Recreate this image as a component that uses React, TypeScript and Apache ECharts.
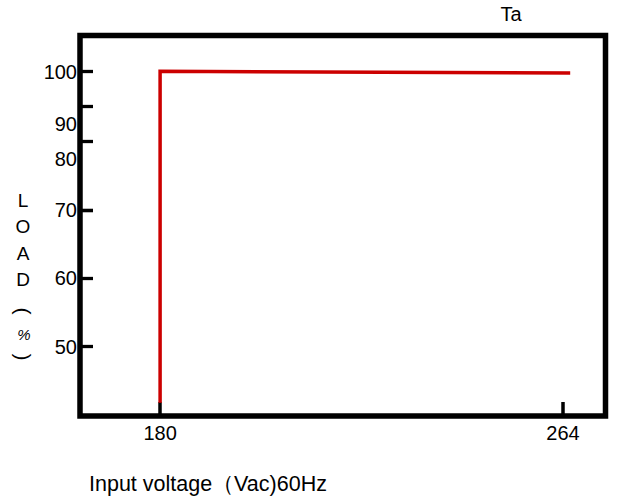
import React, { useEffect, useRef } from "react";
import * as echarts from "echarts";

// Curve "Ta": input voltage (Vac) vs load (%)
const taVoltage = [180, 180, 265.5];
const taLoad = [41.8, 100.1, 99.7];

// Axis break: the load axis is drawn with two scales, joined at this value
const loadBreak = 70;

// X axis
const xMin = 163.3;
const xMax = 272.86;
const xTicks = [180, 264];

// Upper load scale (70 .. top)
const upperMax = 107.85;
const upperTicks = [100, 92.6, 85, 70];
const upperLabelValues = [100, 88.65, 81.06];
const upperLabelTexts = ["100", "90", "80"];

// Lower load scale (bottom .. 70)
const lowerMin = 39.87;
const lowerTicks = [70, 60, 50];
const lowerLabelValues = [70, 60, 50];
const lowerLabelTexts = ["70", "60", "50"];

const yNameWord = "L\nO\nA\nD";
const yNameOpen = "(";
const yNameUnit = "%";
const yNameClose = ")";
const xName = "Input voltage（Vac)60Hz";
const seriesName = "Ta";

const FONT = "Arial";
const RED = "#cc0000";

function splitAtBreak(xs: number[], ys: number[], brk: number) {
  const upper: number[][] = [];
  const lower: number[][] = [];
  for (let i = 0; i < xs.length - 1; i++) {
    const x0 = xs[i], y0 = ys[i], x1 = xs[i + 1], y1 = ys[i + 1];
    const pts: number[][] = [[x0, y0]];
    if ((y0 - brk) * (y1 - brk) < 0) {
      const t = (brk - y0) / (y1 - y0);
      pts.push([x0 + t * (x1 - x0), brk]);
    }
    pts.push([x1, y1]);
    for (let j = 0; j < pts.length - 1; j++) {
      const a = pts[j], b = pts[j + 1];
      const mid = (a[1] + b[1]) / 2;
      const target = mid >= brk ? upper : lower;
      const last = target[target.length - 1];
      if (!last || last[0] !== a[0] || last[1] !== a[1]) target.push(a);
      target.push(b);
    }
  }
  return { upper, lower };
}

export default function App() {
  const ref = useRef<HTMLDivElement>(null);
  useEffect(() => {
    if (!ref.current) return;
    const chart = echarts.init(ref.current, null, { renderer: "svg" });
    const { upper, lower } = splitAtBreak(taVoltage, taLoad, loadBreak);
    const lookup = (vals: number[], texts: string[]) => (v: number) => {
      const i = vals.findIndex((p) => Math.abs(p - v) < 1e-6);
      return i >= 0 ? texts[i] : "";
    };
    const labelStyle = { color: "#000", fontSize: 20, fontFamily: FONT };
    const hiddenAxis = (gridIndex: number, min: number, max: number) => ({
      gridIndex,
      type: "value",
      min,
      max,
      show: false,
      splitLine: { show: false },
    });
    chart.setOption({
      animation: false,
      textStyle: { fontFamily: FONT },
      grid: [
        { left: 80, right: 13.5, top: 35.5, height: 174.5 },
        { left: 80, right: 13.5, top: 210, height: 206 },
        {
          left: 80,
          right: 13.5,
          top: 35.5,
          height: 380.5,
          show: true,
          borderColor: "#000",
          borderWidth: 5.5,
          backgroundColor: "transparent",
        },
      ],
      xAxis: [
        hiddenAxis(0, xMin, xMax),
        {
          gridIndex: 1,
          type: "value",
          position: "bottom",
          min: xMin,
          max: xMax,
          axisLine: { show: false, onZero: false },
          axisTick: {
            show: true,
            inside: true,
            length: 14,
            customValues: xTicks,
            lineStyle: { color: "#000", width: 3.5 },
          },
          axisLabel: {
            ...labelStyle,
            margin: 7,
            customValues: xTicks,
            formatter: (v: number) => String(v),
          },
          splitLine: { show: false },
        },
        hiddenAxis(2, xMin, xMax),
      ],
      yAxis: [
        {
          gridIndex: 0,
          type: "value",
          position: "left",
          min: loadBreak,
          max: upperMax,
          axisLine: { show: false, onZero: false },
          axisTick: {
            show: true,
            inside: true,
            length: 13,
            customValues: upperTicks,
            lineStyle: { color: "#000", width: 3.3 },
          },
          axisLabel: {
            ...labelStyle,
            margin: 3,
            customValues: upperLabelValues,
            formatter: lookup(upperLabelValues, upperLabelTexts),
          },
          splitLine: { show: false },
        },
        {
          gridIndex: 1,
          type: "value",
          position: "left",
          min: lowerMin,
          max: loadBreak,
          axisLine: { show: false, onZero: false },
          axisTick: {
            show: true,
            inside: true,
            length: 13,
            customValues: lowerTicks,
            lineStyle: { color: "#000", width: 3.3 },
          },
          axisLabel: {
            ...labelStyle,
            margin: 3,
            customValues: lowerLabelValues,
            formatter: lookup(lowerLabelValues, lowerLabelTexts),
          },
          splitLine: { show: false },
        },
        hiddenAxis(2, lowerMin, upperMax),
      ],
      series: [
        {
          name: seriesName,
          type: "line",
          xAxisIndex: 0,
          yAxisIndex: 0,
          data: upper,
          symbol: "none",
          clip: false,
          silent: true,
          lineStyle: { color: RED, width: 3.5, join: "miter", cap: "butt" },
          z: 5,
        },
        {
          name: seriesName,
          type: "line",
          xAxisIndex: 1,
          yAxisIndex: 1,
          data: lower,
          symbol: "none",
          clip: false,
          silent: true,
          lineStyle: { color: RED, width: 3.5, join: "miter", cap: "butt" },
          z: 5,
        },
      ],
      graphic: [
        {
          type: "text",
          x: 511,
          y: 14,
          style: {
            text: seriesName,
            fontSize: 20,
            fontFamily: FONT,
            fill: "#000",
            align: "center",
            verticalAlign: "middle",
          },
        },
        {
          type: "text",
          x: 89,
          y: 484,
          style: {
            text: xName,
            fontSize: 21.5,
            fontFamily: FONT,
            fill: "#000",
            align: "left",
            verticalAlign: "middle",
          },
        },
        {
          type: "text",
          x: 23,
          y: 240,
          style: {
            text: yNameWord,
            fontSize: 19,
            lineHeight: 26.5,
            fontFamily: FONT,
            fill: "#000",
            align: "center",
            verticalAlign: "middle",
          },
        },
        {
          type: "text",
          x: 23,
          y: 311,
          rotation: -Math.PI / 2,
          style: {
            text: yNameOpen,
            fontSize: 21,
            fontFamily: FONT,
            fill: "#000",
            align: "center",
            verticalAlign: "middle",
          },
        },
        {
          type: "text",
          x: 24,
          y: 334,
          style: {
            text: yNameUnit,
            fontSize: 15,
            fontStyle: "italic",
            fontFamily: FONT,
            fill: "#000",
            align: "center",
            verticalAlign: "middle",
          },
        },
        {
          type: "text",
          x: 23,
          y: 357,
          rotation: -Math.PI / 2,
          style: {
            text: yNameClose,
            fontSize: 21,
            fontFamily: FONT,
            fill: "#000",
            align: "center",
            verticalAlign: "middle",
          },
        },
      ],
    });
    return () => chart.dispose();
  }, []);
  return (
    <div
      ref={ref}
      style={{ position: "absolute", left: 0, top: 0, width: 619, height: 500, background: "#fff" }}
    />
  );
}
